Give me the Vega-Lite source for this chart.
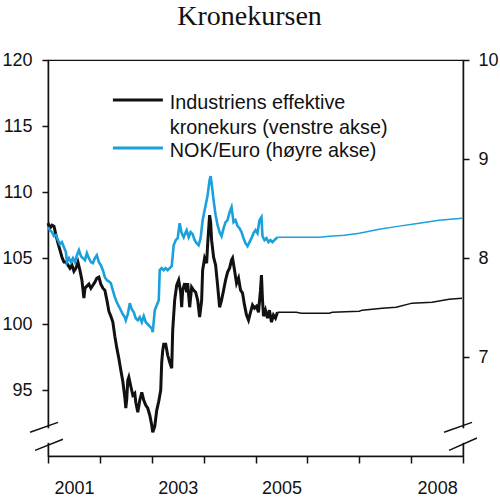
{
  "$schema": "https://vega.github.io/schema/vega-lite/v6.json",
  "width": 415,
  "height": 396,
  "autosize": {"type": "none"},
  "padding": {"left": 48, "top": 60, "right": 37, "bottom": 45},
  "title": {"text": "Kronekursen", "font": "Liberation Serif", "fontSize": 28, "fontWeight": "normal", "color": "#111111", "anchor": "middle", "dx": -6, "offset": 20},
  "config": {
    "view": {"stroke": "#111111", "strokeWidth": 1.2},
    "axis": {"domainColor": "#111111", "domainWidth": 1.5, "tickColor": "#111111", "tickWidth": 1.5, "labelFont": "Liberation Sans", "labelFontSize": 18, "labelColor": "#111111", "grid": false, "title": null}
  },
  "datasets": {
    "ind": [
      {"t": 2001.000, "v": 107.64}, {"t": 2001.038, "v": 107.26}, {"t": 2001.077, "v": 107.49}, {"t": 2001.115, "v": 107.41},
      {"t": 2001.154, "v": 106.73}, {"t": 2001.192, "v": 106.13}, {"t": 2001.231, "v": 105.59}, {"t": 2001.269, "v": 105.06},
      {"t": 2001.308, "v": 104.69}, {"t": 2001.346, "v": 104.69}, {"t": 2001.385, "v": 104.46}, {"t": 2001.423, "v": 104.23},
      {"t": 2001.462, "v": 104.46}, {"t": 2001.500, "v": 104.00}, {"t": 2001.538, "v": 104.23}, {"t": 2001.577, "v": 104.69},
      {"t": 2001.615, "v": 104.08}, {"t": 2001.654, "v": 103.32}, {"t": 2001.692, "v": 101.96}, {"t": 2001.712, "v": 102.71},
      {"t": 2001.750, "v": 102.87}, {"t": 2001.788, "v": 103.02}, {"t": 2001.827, "v": 102.71}, {"t": 2001.865, "v": 102.94},
      {"t": 2001.904, "v": 103.17}, {"t": 2001.942, "v": 103.47}, {"t": 2001.981, "v": 103.55}, {"t": 2002.019, "v": 103.02},
      {"t": 2002.058, "v": 102.71}, {"t": 2002.096, "v": 102.56}, {"t": 2002.135, "v": 101.81}, {"t": 2002.173, "v": 100.97},
      {"t": 2002.212, "v": 100.59}, {"t": 2002.250, "v": 100.14}, {"t": 2002.288, "v": 99.08}, {"t": 2002.327, "v": 98.17},
      {"t": 2002.365, "v": 97.41}, {"t": 2002.404, "v": 96.50}, {"t": 2002.442, "v": 95.66}, {"t": 2002.481, "v": 94.45},
      {"t": 2002.500, "v": 93.62}, {"t": 2002.519, "v": 94.37}, {"t": 2002.538, "v": 95.74}, {"t": 2002.558, "v": 95.97},
      {"t": 2002.596, "v": 95.28}, {"t": 2002.635, "v": 94.60}, {"t": 2002.673, "v": 94.75}, {"t": 2002.692, "v": 94.07},
      {"t": 2002.731, "v": 93.31}, {"t": 2002.769, "v": 94.22}, {"t": 2002.808, "v": 94.83}, {"t": 2002.846, "v": 94.22},
      {"t": 2002.885, "v": 93.84}, {"t": 2002.923, "v": 93.62}, {"t": 2002.962, "v": 93.09}, {"t": 2003.000, "v": 92.33},
      {"t": 2003.019, "v": 91.80}, {"t": 2003.058, "v": 92.25}, {"t": 2003.096, "v": 93.46}, {"t": 2003.135, "v": 94.15},
      {"t": 2003.173, "v": 94.98}, {"t": 2003.192, "v": 97.10}, {"t": 2003.212, "v": 98.01}, {"t": 2003.231, "v": 98.47},
      {"t": 2003.269, "v": 98.47}, {"t": 2003.308, "v": 97.63}, {"t": 2003.346, "v": 97.10}, {"t": 2003.385, "v": 96.65},
      {"t": 2003.404, "v": 99.53}, {"t": 2003.442, "v": 101.81}, {"t": 2003.481, "v": 102.94}, {"t": 2003.519, "v": 103.32},
      {"t": 2003.558, "v": 102.41}, {"t": 2003.577, "v": 101.27}, {"t": 2003.596, "v": 102.56}, {"t": 2003.635, "v": 103.09},
      {"t": 2003.673, "v": 102.41}, {"t": 2003.692, "v": 103.09}, {"t": 2003.731, "v": 101.27}, {"t": 2003.769, "v": 102.79},
      {"t": 2003.808, "v": 102.56}, {"t": 2003.846, "v": 102.41}, {"t": 2003.885, "v": 101.81}, {"t": 2003.923, "v": 100.52},
      {"t": 2003.962, "v": 101.81}, {"t": 2003.981, "v": 104.08}, {"t": 2004.019, "v": 104.99}, {"t": 2004.058, "v": 104.61},
      {"t": 2004.077, "v": 105.97}, {"t": 2004.115, "v": 108.25}, {"t": 2004.135, "v": 107.72}, {"t": 2004.154, "v": 106.35},
      {"t": 2004.192, "v": 105.06}, {"t": 2004.231, "v": 104.46}, {"t": 2004.269, "v": 102.94}, {"t": 2004.308, "v": 101.27},
      {"t": 2004.346, "v": 101.81}, {"t": 2004.385, "v": 102.56}, {"t": 2004.423, "v": 103.32}, {"t": 2004.462, "v": 103.93},
      {"t": 2004.500, "v": 104.23}, {"t": 2004.538, "v": 104.84}, {"t": 2004.558, "v": 104.99}, {"t": 2004.596, "v": 104.08},
      {"t": 2004.635, "v": 103.09}, {"t": 2004.673, "v": 103.47}, {"t": 2004.712, "v": 102.56}, {"t": 2004.750, "v": 102.34},
      {"t": 2004.788, "v": 101.43}, {"t": 2004.827, "v": 100.67}, {"t": 2004.865, "v": 100.29}, {"t": 2004.904, "v": 100.89},
      {"t": 2004.942, "v": 101.43}, {"t": 2004.981, "v": 101.20}, {"t": 2005.019, "v": 101.35}, {"t": 2005.058, "v": 100.89},
      {"t": 2005.096, "v": 102.56}, {"t": 2005.115, "v": 103.70}, {"t": 2005.135, "v": 101.81}, {"t": 2005.154, "v": 100.59},
      {"t": 2005.192, "v": 101.05}, {"t": 2005.231, "v": 100.44}, {"t": 2005.269, "v": 101.05}, {"t": 2005.308, "v": 100.14},
      {"t": 2005.346, "v": 100.67}, {"t": 2005.385, "v": 100.44}, {"t": 2005.423, "v": 100.89},
      {"t": 2005.788, "v": 100.89}, {"t": 2005.885, "v": 100.82}, {"t": 2006.423, "v": 100.82}, {"t": 2006.481, "v": 100.89},
      {"t": 2007.000, "v": 100.97}, {"t": 2007.058, "v": 101.05}, {"t": 2007.442, "v": 101.20}, {"t": 2007.712, "v": 101.27},
      {"t": 2008.019, "v": 101.58}, {"t": 2008.404, "v": 101.65}, {"t": 2008.731, "v": 101.88}, {"t": 2008.981, "v": 101.96}
    ],
    "eur": [
      {"t": 2001.000, "v": 8.311}, {"t": 2001.038, "v": 8.281}, {"t": 2001.077, "v": 8.261}, {"t": 2001.115, "v": 8.220},
      {"t": 2001.154, "v": 8.231}, {"t": 2001.192, "v": 8.180}, {"t": 2001.231, "v": 8.140}, {"t": 2001.269, "v": 8.160},
      {"t": 2001.308, "v": 8.109}, {"t": 2001.346, "v": 8.059}, {"t": 2001.365, "v": 7.958}, {"t": 2001.404, "v": 7.998},
      {"t": 2001.442, "v": 7.958}, {"t": 2001.481, "v": 7.998}, {"t": 2001.519, "v": 7.958}, {"t": 2001.558, "v": 8.028},
      {"t": 2001.596, "v": 8.079}, {"t": 2001.635, "v": 8.018}, {"t": 2001.673, "v": 7.998}, {"t": 2001.712, "v": 7.978},
      {"t": 2001.750, "v": 8.049}, {"t": 2001.788, "v": 7.998}, {"t": 2001.827, "v": 7.958}, {"t": 2001.865, "v": 7.947},
      {"t": 2001.904, "v": 7.998}, {"t": 2001.942, "v": 8.028}, {"t": 2001.981, "v": 7.958}, {"t": 2002.019, "v": 7.927},
      {"t": 2002.058, "v": 7.877}, {"t": 2002.096, "v": 7.806}, {"t": 2002.135, "v": 7.776}, {"t": 2002.173, "v": 7.765},
      {"t": 2002.212, "v": 7.745}, {"t": 2002.250, "v": 7.674}, {"t": 2002.288, "v": 7.604}, {"t": 2002.327, "v": 7.553},
      {"t": 2002.365, "v": 7.513}, {"t": 2002.404, "v": 7.472}, {"t": 2002.442, "v": 7.432}, {"t": 2002.481, "v": 7.401},
      {"t": 2002.500, "v": 7.371}, {"t": 2002.538, "v": 7.432}, {"t": 2002.577, "v": 7.543}, {"t": 2002.615, "v": 7.482},
      {"t": 2002.654, "v": 7.452}, {"t": 2002.692, "v": 7.391}, {"t": 2002.731, "v": 7.371}, {"t": 2002.769, "v": 7.401},
      {"t": 2002.808, "v": 7.351}, {"t": 2002.846, "v": 7.412}, {"t": 2002.885, "v": 7.351}, {"t": 2002.923, "v": 7.331},
      {"t": 2002.962, "v": 7.310}, {"t": 2003.000, "v": 7.290}, {"t": 2003.019, "v": 7.250}, {"t": 2003.058, "v": 7.472},
      {"t": 2003.096, "v": 7.523}, {"t": 2003.135, "v": 7.573}, {"t": 2003.154, "v": 7.877}, {"t": 2003.192, "v": 7.897},
      {"t": 2003.231, "v": 7.877}, {"t": 2003.269, "v": 7.897}, {"t": 2003.308, "v": 7.877}, {"t": 2003.346, "v": 7.897},
      {"t": 2003.385, "v": 7.917}, {"t": 2003.423, "v": 8.129}, {"t": 2003.462, "v": 8.180}, {"t": 2003.500, "v": 8.200},
      {"t": 2003.538, "v": 8.352}, {"t": 2003.577, "v": 8.251}, {"t": 2003.615, "v": 8.210}, {"t": 2003.654, "v": 8.261},
      {"t": 2003.673, "v": 8.281}, {"t": 2003.712, "v": 8.210}, {"t": 2003.750, "v": 8.261}, {"t": 2003.788, "v": 8.241},
      {"t": 2003.827, "v": 8.180}, {"t": 2003.865, "v": 8.150}, {"t": 2003.904, "v": 8.129}, {"t": 2003.942, "v": 8.200},
      {"t": 2003.981, "v": 8.382}, {"t": 2004.019, "v": 8.483}, {"t": 2004.058, "v": 8.584}, {"t": 2004.077, "v": 8.635},
      {"t": 2004.115, "v": 8.787}, {"t": 2004.135, "v": 8.827}, {"t": 2004.154, "v": 8.756}, {"t": 2004.192, "v": 8.584},
      {"t": 2004.231, "v": 8.433}, {"t": 2004.269, "v": 8.332}, {"t": 2004.308, "v": 8.261}, {"t": 2004.346, "v": 8.220},
      {"t": 2004.385, "v": 8.301}, {"t": 2004.423, "v": 8.362}, {"t": 2004.462, "v": 8.382}, {"t": 2004.500, "v": 8.463},
      {"t": 2004.538, "v": 8.514}, {"t": 2004.577, "v": 8.362}, {"t": 2004.615, "v": 8.382}, {"t": 2004.654, "v": 8.322},
      {"t": 2004.692, "v": 8.301}, {"t": 2004.731, "v": 8.261}, {"t": 2004.769, "v": 8.200}, {"t": 2004.808, "v": 8.150},
      {"t": 2004.846, "v": 8.119}, {"t": 2004.885, "v": 8.160}, {"t": 2004.923, "v": 8.200}, {"t": 2004.962, "v": 8.251},
      {"t": 2005.000, "v": 8.281}, {"t": 2005.038, "v": 8.251}, {"t": 2005.077, "v": 8.382}, {"t": 2005.115, "v": 8.413},
      {"t": 2005.135, "v": 8.220}, {"t": 2005.173, "v": 8.180}, {"t": 2005.212, "v": 8.200}, {"t": 2005.250, "v": 8.160},
      {"t": 2005.288, "v": 8.180}, {"t": 2005.327, "v": 8.160}, {"t": 2005.365, "v": 8.180}, {"t": 2005.423, "v": 8.210},
      {"t": 2005.846, "v": 8.210}, {"t": 2006.231, "v": 8.210}, {"t": 2006.423, "v": 8.220}, {"t": 2006.712, "v": 8.231},
      {"t": 2007.000, "v": 8.251}, {"t": 2007.385, "v": 8.291}, {"t": 2007.769, "v": 8.322}, {"t": 2008.154, "v": 8.352},
      {"t": 2008.538, "v": 8.382}, {"t": 2008.981, "v": 8.402}
    ],
    "breaks": [
      {"t": 2000.654, "t2": 2001.192, "v": 91.80, "v2": 92.55},
      {"t": 2000.750, "t2": 2001.288, "v": 90.43, "v2": 91.27},
      {"t": 2008.635, "t2": 2009.173, "v": 91.80, "v2": 92.55},
      {"t": 2008.731, "t2": 2009.269, "v": 90.43, "v2": 91.36}
    ],
    "gaps": [
      {"t": 2001, "v": 91.0, "v2": 92.1},
      {"t": 2009, "v": 91.0, "v2": 92.1}
    ]
  },
  "encoding": {
    "x": {
      "field": "t", "type": "quantitative",
      "scale": {"domain": [2001, 2009], "nice": false, "zero": false},
      "axis": {"values": [2001, 2002, 2003, 2004, 2005, 2006, 2007, 2008, 2009], "format": "d", "labelExpr": "indexof([2001, 2003, 2005, 2008], datum.value) >= 0 ? datum.label : ''", "labelOffset": 26, "tickSize": 7, "labelPadding": 16, "labelFlush": false, "labelOverlap": false}
    }
  },
  "layer": [
    {
      "encoding": {
        "y": {"field": "v", "type": "quantitative", "scale": {"domain": [90, 120], "nice": false, "zero": false}, "axis": {"orient": "left", "values": [95, 100, 105, 110, 115, 120], "tickSize": 6, "labelPadding": 10, "labelAlign": "right", "labelBaseline": "middle"}}
      },
      "layer": [
        {
          "data": {"name": "gaps"},
          "mark": {"type": "rule", "color": "white", "strokeWidth": 5, "clip": false},
          "encoding": {"y2": {"field": "v2"}}
        },
        {
          "data": {"name": "ind"},
          "transform": [{"filter": "datum.t <= 2005.43"}],
          "mark": {"type": "line", "strokeWidth": 3},
          "encoding": {
            "color": {"datum": "Industriens effektive kronekurs (venstre akse)", "type": "nominal",
              "scale": {"domain": ["Industriens effektive kronekurs (venstre akse)", "NOK/Euro (høyre akse)"], "range": ["#111111", "#1aa0dc"]},
              "legend": {"orient": "none", "legendX": 80, "legendY": 30, "title": null, "symbolType": "M-5,0H5", "symbolSize": 100, "symbolStrokeWidth": 3, "labelFont": "Liberation Sans", "labelFontSize": 19.8, "labelColor": "#111111", "labelLimit": 400, "labelOffset": 22, "padding": 0, "rowPadding": -14, "labelBaseline": "top",
                "labelExpr": "datum.label == 'NOK/Euro (høyre akse)' ? datum.label : ['Industriens effektive', 'kronekurs (venstre akse)']",
                "encode": {"labels": {"update": {"lineHeight": {"value": 25}, "dy": {"value": -7}}}}}
            }
          }
        },
        {
          "data": {"name": "ind"},
          "transform": [{"filter": "datum.t >= 2005.42"}],
          "mark": {"type": "line", "strokeWidth": 1.5},
          "encoding": {"color": {"datum": "Industriens effektive kronekurs (venstre akse)", "type": "nominal"}}
        }
      ]
    },
    {
      "data": {"name": "eur"},
      "encoding": {
        "y": {"field": "v", "type": "quantitative", "scale": {"domain": [6, 10], "nice": false, "zero": false}, "axis": {"orient": "right", "values": [7, 8, 9, 10], "tickSize": 6, "labelPadding": 9, "labelAlign": "left", "labelBaseline": "middle"}},
        "color": {"datum": "NOK/Euro (høyre akse)", "type": "nominal"}
      },
      "layer": [
        {"transform": [{"filter": "datum.t <= 2005.43"}], "mark": {"type": "line", "strokeWidth": 2.6}},
        {"transform": [{"filter": "datum.t >= 2005.42"}], "mark": {"type": "line", "strokeWidth": 1.5}}
      ]
    },
    {
      "data": {"name": "breaks"},
      "mark": {"type": "rule", "color": "#111111", "strokeWidth": 1.5, "clip": false},
      "encoding": {
        "x2": {"field": "t2"},
        "y": {"field": "v", "type": "quantitative", "scale": {"domain": [90, 120], "nice": false, "zero": false}, "axis": null},
        "y2": {"field": "v2"}
      }
    }
  ],
  "resolve": {"scale": {"y": "independent"}}
}
